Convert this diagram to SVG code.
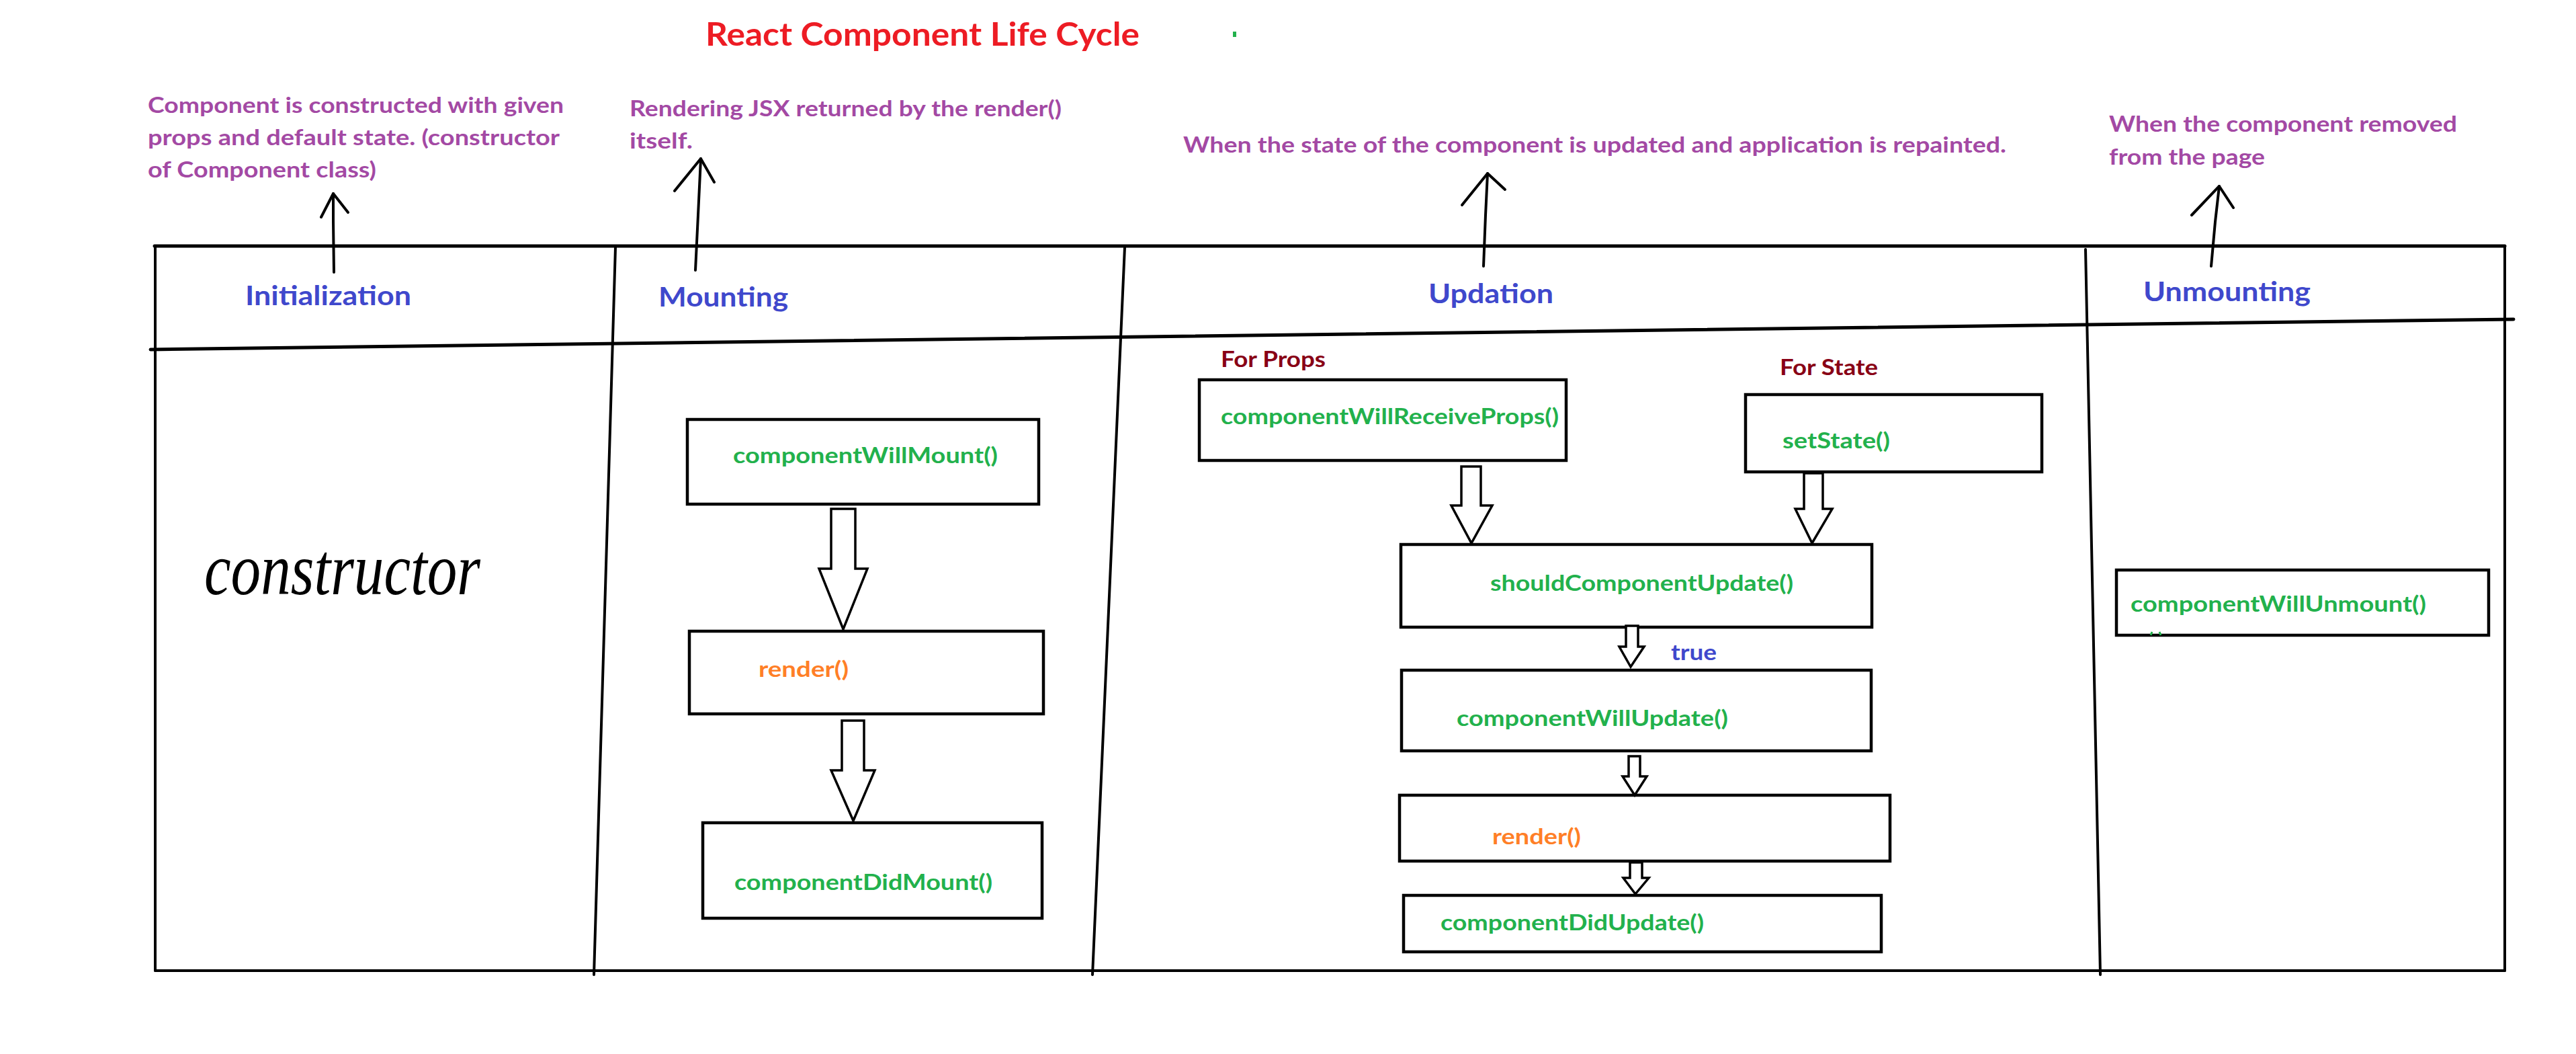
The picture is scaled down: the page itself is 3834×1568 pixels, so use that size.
<svg xmlns="http://www.w3.org/2000/svg" width="3834" height="1568" viewBox="0 0 3834 1568">
<style>
  text { font-family: Lato, "Open Sans", "Liberation Sans", sans-serif; font-weight: bold; }
  .title { font-size: 47px; fill: #ED1C24; }
  .desc { font-size: 32px; fill: #A349A4; }
  .head { font-size: 40px; fill: #3F48CC; }
  .fn { font-size: 33px; fill: #22B14C; }
  .rn { font-size: 33px; fill: #FF7F27; }
  .lbl { font-size: 33px; fill: #880015; }
  .tru { font-size: 33px; fill: #3F48CC; }
  .box { fill: #ffffff; stroke: #000000; stroke-width: 4.5; }
  .frame { fill: none; stroke: #000000; stroke-width: 4; stroke-linecap: round; }
  .thick { fill: none; stroke: #000000; stroke-width: 5; stroke-linecap: round; }
  .hand { fill: none; stroke: #000000; stroke-width: 4; stroke-linecap: round; stroke-linejoin: round; }
  .block { fill: #ffffff; stroke: #000000; stroke-width: 3.5; stroke-linejoin: miter; }
  .scrawl { font-family: "Liberation Serif", "DejaVu Serif", serif; font-style: italic; font-weight: normal; font-size: 110px; fill: #000000; }
</style>
<rect width="3834" height="1568" fill="#ffffff"/>

<g id="title">
  <text class="title" x="1050" y="68" textLength="646" lengthAdjust="spacingAndGlyphs">React Component Life Cycle</text>
  <rect x="1835" y="47" width="5" height="8" fill="#22B14C"/>
</g>

<g id="frame">
  <line class="thick" x1="230" y1="366" x2="3728" y2="366"/>
  <line class="frame" x1="231" y1="366" x2="231" y2="1444"/>
  <line class="frame" x1="231" y1="1444" x2="3728" y2="1444"/>
  <line class="frame" x1="3728" y1="366" x2="3728" y2="1444"/>
  <line class="thick" x1="224" y1="520" x2="3741" y2="475"/>
  <line class="frame" x1="916" y1="368" x2="884" y2="1450"/>
  <line class="frame" x1="1674" y1="368" x2="1626" y2="1450"/>
  <line class="frame" x1="3104" y1="371" x2="3126" y2="1450"/>
</g>

<g id="desc-initialization">
  <text class="desc" x="220" y="168" textLength="619" lengthAdjust="spacingAndGlyphs">Component is constructed with given</text>
  <text class="desc" x="220" y="216" textLength="613" lengthAdjust="spacingAndGlyphs">props and default state. (constructor</text>
  <text class="desc" x="220" y="264" textLength="340" lengthAdjust="spacingAndGlyphs">of Component class)</text>
</g>
<g id="desc-mounting">
  <text class="desc" x="937" y="173" textLength="643" lengthAdjust="spacingAndGlyphs">Rendering JSX returned by the render()</text>
  <text class="desc" x="937" y="221" textLength="94" lengthAdjust="spacingAndGlyphs">itself.</text>
</g>
<g id="desc-updation">
  <text class="desc" x="1761" y="227" textLength="1225" lengthAdjust="spacingAndGlyphs">When the state of the component is updated and application is repainted.</text>
</g>
<g id="desc-unmounting">
  <text class="desc" x="3139" y="196" textLength="518" lengthAdjust="spacingAndGlyphs">When the component removed</text>
  <text class="desc" x="3139" y="245" textLength="232" lengthAdjust="spacingAndGlyphs">from the page</text>
</g>

<g id="head-initialization"><text class="head" x="365" y="454" textLength="247" lengthAdjust="spacingAndGlyphs">Initialization</text></g>
<g id="head-mounting"><text class="head" x="980" y="456" textLength="193" lengthAdjust="spacingAndGlyphs">Mounting</text></g>
<g id="head-updation"><text class="head" x="2126" y="451" textLength="186" lengthAdjust="spacingAndGlyphs">Updation</text></g>
<g id="head-unmounting"><text class="head" x="3190" y="448" textLength="249" lengthAdjust="spacingAndGlyphs">Unmounting</text></g>

<g id="constructor">
  <text class="scrawl" x="304" y="884" textLength="411" lengthAdjust="spacingAndGlyphs">constructor</text>
</g>

<g id="componentWillMount">
  <rect class="box" x="1023" y="624" width="523" height="126"/>
  <text class="fn" x="1091" y="689" textLength="394" lengthAdjust="spacingAndGlyphs">componentWillMount()</text>
</g>
<g id="render-mount">
  <rect class="box" x="1026" y="939" width="527" height="123"/>
  <text class="rn" x="1129" y="1007" textLength="134" lengthAdjust="spacingAndGlyphs">render()</text>
</g>
<g id="componentDidMount">
  <rect class="box" x="1046" y="1224" width="505" height="142"/>
  <text class="fn" x="1093" y="1324" textLength="384" lengthAdjust="spacingAndGlyphs">componentDidMount()</text>
</g>

<g id="for-props"><text class="lbl" x="1817" y="546" textLength="156" lengthAdjust="spacingAndGlyphs">For Props</text></g>
<g id="for-state"><text class="lbl" x="2649" y="558" textLength="146" lengthAdjust="spacingAndGlyphs">For State</text></g>

<g id="componentWillReceiveProps">
  <rect class="box" x="1785" y="565" width="546" height="120"/>
  <text class="fn" x="1817" y="631" textLength="503" lengthAdjust="spacingAndGlyphs">componentWillReceiveProps()</text>
</g>
<g id="setState">
  <rect class="box" x="2598" y="587" width="441" height="115"/>
  <text class="fn" x="2653" y="667" textLength="160" lengthAdjust="spacingAndGlyphs">setState()</text>
</g>
<g id="shouldComponentUpdate">
  <rect class="box" x="2085" y="810" width="701" height="123"/>
  <text class="fn" x="2218" y="879" textLength="451" lengthAdjust="spacingAndGlyphs">shouldComponentUpdate()</text>
</g>
<g id="true-label"><text class="tru" x="2487" y="982" textLength="68" lengthAdjust="spacingAndGlyphs">true</text></g>
<g id="componentWillUpdate">
  <rect class="box" x="2086" y="997" width="699" height="120"/>
  <text class="fn" x="2168" y="1080" textLength="404" lengthAdjust="spacingAndGlyphs">componentWillUpdate()</text>
</g>
<g id="render-update">
  <rect class="box" x="2083" y="1183" width="730" height="98"/>
  <text class="rn" x="2221" y="1256" textLength="132" lengthAdjust="spacingAndGlyphs">render()</text>
</g>
<g id="componentDidUpdate">
  <rect class="box" x="2089" y="1332" width="711" height="84"/>
  <text class="fn" x="2144" y="1384" textLength="392" lengthAdjust="spacingAndGlyphs">componentDidUpdate()</text>
</g>

<g id="componentWillUnmount">
  <rect class="box" x="3150" y="848" width="554" height="97"/>
  <text class="fn" x="3171" y="910" textLength="440" lengthAdjust="spacingAndGlyphs">componentWillUnmount()</text>
  <path d="M3201,945 L3203,940 M3216,945 L3214,940" stroke="#22B14C" stroke-width="3" fill="none"/>
</g>

<g id="connectors">
  <path class="hand" d="M497,405 L496,330 L496,288"/>
  <path class="hand" d="M478,323 L496,288 L518,316"/>
  <path class="hand" d="M1035,402 L1039,320 L1043,236"/>
  <path class="hand" d="M1004,284 L1043,236 L1063,271"/>
  <path class="hand" d="M2208,396 L2211,320 L2214,258"/>
  <path class="hand" d="M2176,305 L2214,258 L2240,282"/>
  <path class="hand" d="M3291,396 L3297,330 L3303,277"/>
  <path class="hand" d="M3262,320 L3303,277 L3324,309"/>

  <polygon class="block" points="1237,757 1273,757 1273,846 1291,846 1255,936 1219,846 1237,846"/>
  <polygon class="block" points="1253,1072 1286,1072 1286,1146 1302,1146 1270,1221 1237,1146 1253,1146"/>

  <polygon class="block" points="2175,694 2204,694 2204,752 2221,752 2190,808 2160,752 2175,752"/>
  <polygon class="block" points="2685,704 2713,704 2713,757 2727,757 2697,808 2672,757 2685,757"/>
  <polygon class="block" points="2420,931 2438,931 2438,962 2447,962 2427,992 2410,962 2420,962"/>
  <polygon class="block" points="2424,1125 2441,1125 2441,1155 2451,1155 2433,1183 2415,1155 2424,1155"/>
  <polygon class="block" points="2426,1283 2444,1283 2444,1306 2454,1306 2434,1330 2416,1306 2426,1306"/>
</g>
</svg>
